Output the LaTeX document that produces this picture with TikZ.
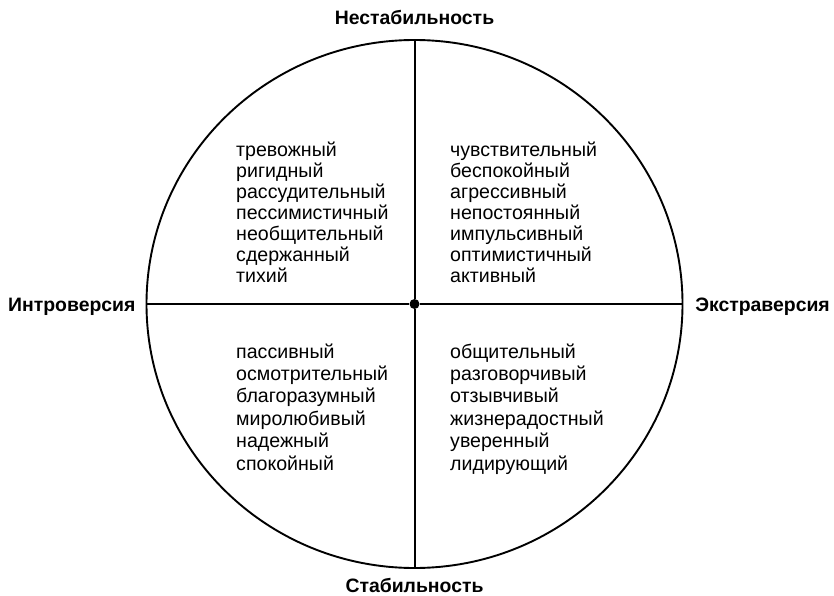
\documentclass[tikz,border=0pt]{standalone}
\usepackage{fontspec}
\setmainfont{Liberation Sans}
\begin{document}
\begin{tikzpicture}[x=1pt,y=-1pt,
  word/.style={inner sep=0pt,anchor=base west,font=\fontsize{19.6}{22}\selectfont},
  axislabel/.style={inner sep=0pt,font=\fontsize{19.4}{22}\selectfont\bfseries},
  axis/.style={line width=2pt,black},
  rim/.style={line width=1.9pt,black}]
\useasboundingbox (0,0) rectangle (834,596);
% circle
\draw[rim] (414.5,304) ellipse [x radius=268, y radius=264];
\node[circle,fill=black,inner sep=0pt,minimum size=10pt] (c) at (414.5,304) {};
\coordinate (n) at (414.5,40);
\coordinate (s) at (414.5,568);
\coordinate (w) at (146.5,304);
\coordinate (e) at (682.5,304);
\draw[axis] (n) -- (c) -- (s);
\draw[axis] (w) -- (c) -- (e);
% axis labels
\node[axislabel,anchor=base] (top) at (414.5,25) {Нестабильность};
\node[axislabel,anchor=base] (bot) at (414.5,592) {Стабильность};
\node[axislabel,anchor=base west] (left) at (8,311) {Интроверсия};
\node[axislabel,anchor=base east] (right) at (830,311) {Экстраверсия};
% quadrants
\foreach \t [count=\i from 0] in {тревожный,ригидный,рассудительный,пессимистичный,необщительный,сдержанный,тихий}
  \node[word] (ul\i) at (236,157+20.9*\i) {\t};
\foreach \t [count=\i from 0] in {чувствительный,беспокойный,агрессивный,непостоянный,импульсивный,оптимистичный,активный}
  \node[word] (ur\i) at (450,157+20.9*\i) {\t};
\foreach \t [count=\i from 0] in {пассивный,осмотрительный,благоразумный,миролюбивый,надежный,спокойный}
  \node[word] (ll\i) at (236,358+22.4*\i) {\t};
\foreach \t [count=\i from 0] in {общительный,разговорчивый,отзывчивый,жизнерадостный,уверенный,лидирующий}
  \node[word] (lr\i) at (450,358+22.4*\i) {\t};
\end{tikzpicture}
\end{document}
